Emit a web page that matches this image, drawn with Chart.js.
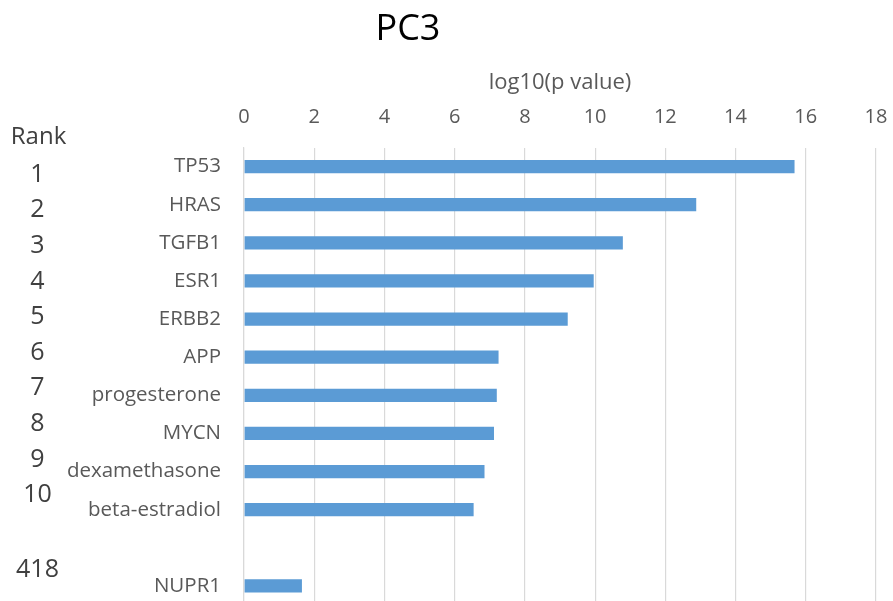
<!DOCTYPE html>
<html>
<head>
<meta charset="utf-8">
<script src="https://cdn.jsdelivr.net/npm/chart.js@4.4.1/dist/chart.umd.min.js"></script>
<style>
  html, body { margin: 0; padding: 0; background: #fff; overflow: hidden; }
  #wrap { width: 893px; height: 605px; }
</style>
</head>
<body>
<div id="wrap"><canvas id="chart" width="893" height="605"></canvas></div>
<script>
// data
const categories = ['TP53', 'HRAS', 'TGFB1', 'ESR1', 'ERBB2', 'APP', 'progesterone',
  'MYCN', 'dexamethasone', 'beta-estradiol', '', 'NUPR1'];
const logP = [15.68, 12.88, 10.79, 9.96, 9.22, 7.25, 7.2, 7.12, 6.85, 6.54, null, 1.65];
const ranks = ['1', '2', '3', '4', '5', '6', '7', '8', '9', '10', '418'];
const xTicks = [0, 2, 4, 6, 8, 10, 12, 14, 16, 18];

const GREY = '#595959';
const GRID = '#d9d9d9';

// title and the rank column are plain text next to the plot
const sideText = {
  id: 'sideText',
  afterDraw(chart) {
    const ctx = chart.ctx;
    ctx.save();
    ctx.fillStyle = '#000';
    ctx.font = '36px "Open Sans"';
    ctx.textAlign = 'center';
    ctx.textBaseline = 'alphabetic';
    ctx.fillText('PC3', 408, 40);

    ctx.fillStyle = '#404040';
    ctx.font = '24px "Open Sans"';
    ctx.textBaseline = 'middle';
    ctx.fillText('Rank', 38.5, 137.5);
    ctx.font = '25px "Open Sans"';
    ranks.forEach((r, i) => {
      const y = i < 10 ? 174.7 + 35.6 * i : 570;
      ctx.fillText(r, 37.5, y);
    });
    ctx.restore();
  }
};

// keep Chart.js from shrinking the plot for label overflow
function noPad(scale) {
  scale.paddingTop = 0;
  scale.paddingBottom = 0;
  scale.paddingLeft = 0;
  scale.paddingRight = 0;
}

new Chart(document.getElementById('chart'), {
  type: 'bar',
  data: {
    labels: categories,
    datasets: [{
      data: logP,
      backgroundColor: '#5B9BD5',
      borderWidth: 0,
      categoryPercentage: 1,
      barPercentage: 0.35
    }]
  },
  options: {
    indexAxis: 'y',
    responsive: false,
    animation: false,
    layout: { padding: { left: 0, right: 17, top: 0, bottom: 0 } },
    plugins: {
      legend: { display: false },
      title: { display: false },
      tooltip: { enabled: false }
    },
    scales: {
      x: {
        position: 'top',
        min: 0,
        max: 18,
        afterBuildTicks(scale) {
          scale.ticks = xTicks.map(v => ({ value: v }));
        },
        afterFit(scale) { scale.height = 147.5; noPad(scale); },
        ticks: {
          color: GREY,
          font: { family: 'Open Sans', size: 20 },
          padding: 18
        },
        grid: { color: GRID, lineWidth: 1.2, drawTicks: false, tickLength: 0 },
        border: { display: false },
        title: {
          display: true,
          text: 'log10(p value)',
          color: GREY,
          font: { family: 'Open Sans', size: 22 },
          padding: { top: 70, bottom: 0 }
        }
      },
      y: {
        afterFit(scale) { scale.width = 244; noPad(scale); },
        ticks: {
          color: GREY,
          font: { family: 'Open Sans', size: 20.5 },
          padding: 23
        },
        grid: { display: false, drawTicks: false, tickLength: 0 },
        border: { display: true, color: GRID, width: 1.2 }
      }
    }
  },
  plugins: [sideText]
});
</script>
</body>
</html>
